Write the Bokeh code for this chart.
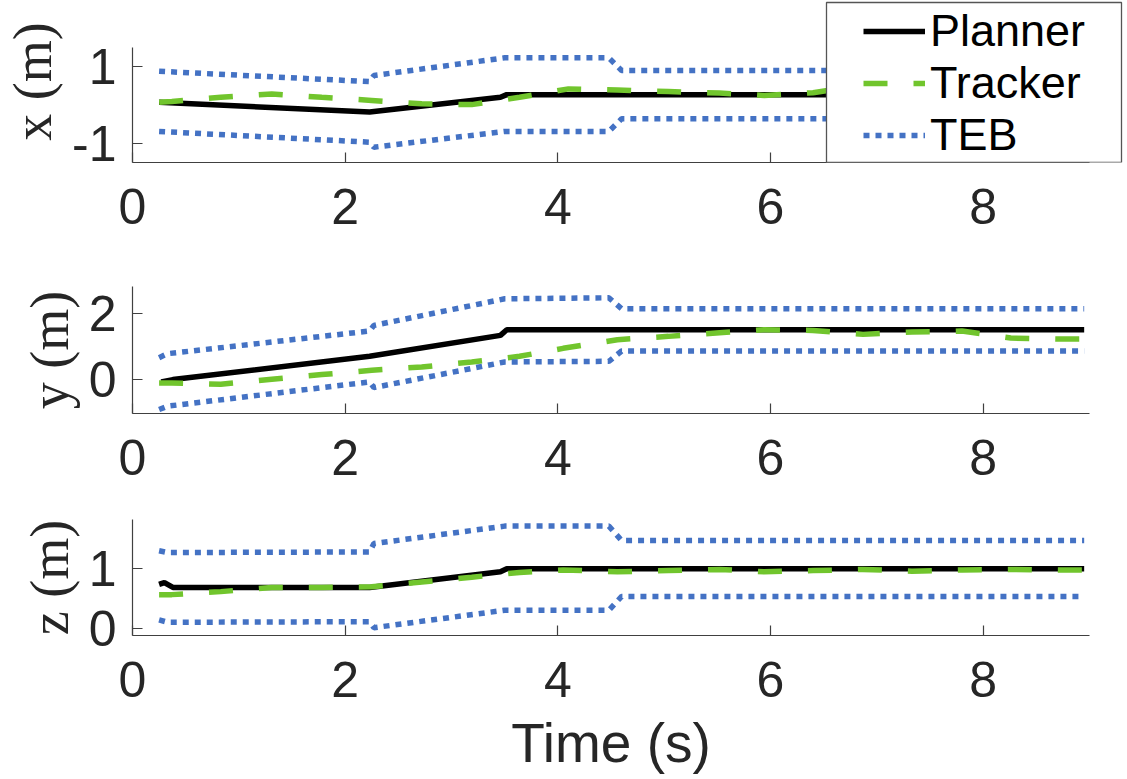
from bokeh.plotting import figure
from bokeh.models import Range1d, FixedTicker, Legend, LegendItem, BoxAnnotation
from bokeh.layouts import column
from bokeh.embed import file_html
from bokeh.resources import INLINE

# ---------------- data ----------------
x_ticks = [0, 2, 4, 6, 8]
series_names = ["Planner", "Tracker", "TEB"]

# x position
x_planner_t = [0.25, 2.23, 3.46, 3.52, 8.95]
x_planner_v = [0.07, -0.18, 0.20, 0.27, 0.27]
x_tracker_t = [0.25, 0.37, 0.83, 1.31, 1.78, 2.25, 2.72, 3.19, 3.64, 4.1, 4.56, 5.04, 5.52, 5.94, 6.4, 6.7, 7.5, 8.95]
x_tracker_v = [0.07, 0.09, 0.20, 0.29, 0.20, 0.12, 0.03, 0.01, 0.20, 0.42, 0.39, 0.35, 0.31, 0.25, 0.32, 0.45, 0.35, 0.30]
x_teb_t = [0.25, 2.23, 2.27, 3.5, 4.48, 4.6, 8.95]
x_teb_upper = [0.88, 0.61, 0.77, 1.23, 1.23, 0.90, 0.90]
x_teb_lower = [-0.69, -0.97, -1.10, -0.69, -0.69, -0.36, -0.36]

# y position
y_planner_t = [0.27, 0.38, 2.23, 3.46, 3.52, 8.95]
y_planner_v = [-0.07, 0.0, 0.70, 1.33, 1.50, 1.50]
y_tracker_t = [0.25, 0.37, 0.83, 1.31, 1.78, 2.25, 2.72, 3.19, 3.64, 4.05, 4.56, 5.04, 5.52, 5.94, 6.4, 6.87, 7.33, 7.8, 8.26, 8.73, 8.95]
y_tracker_v = [-0.10, -0.10, -0.14, 0.01, 0.15, 0.28, 0.38, 0.53, 0.70, 0.94, 1.20, 1.30, 1.41, 1.50, 1.48, 1.36, 1.43, 1.46, 1.25, 1.22, 1.22]
y_teb_t = [0.25, 0.33, 2.23, 2.27, 3.5, 4.48, 4.6, 8.95]
y_teb_upper = [0.66, 0.78, 1.46, 1.63, 2.43, 2.46, 2.13, 2.13]
y_teb_lower = [-0.90, -0.80, -0.07, -0.24, 0.53, 0.55, 0.86, 0.86]

# z position
z_planner_t = [0.25, 0.30, 0.38, 2.23, 3.46, 3.52, 8.95]
z_planner_v = [0.74, 0.77, 0.69, 0.69, 0.95, 1.00, 1.00]
z_tracker_t = [0.25, 0.37, 0.83, 1.31, 1.78, 2.25, 2.72, 3.19, 3.64, 4.05, 4.56, 5.04, 5.52, 5.94, 6.4, 6.87, 7.33, 7.8, 8.26, 8.73, 8.95]
z_tracker_v = [0.57, 0.57, 0.62, 0.69, 0.69, 0.70, 0.78, 0.86, 0.94, 0.98, 0.95, 0.97, 0.99, 0.95, 0.97, 0.99, 0.96, 0.98, 0.99, 0.98, 0.98]
z_teb_t = [0.25, 0.33, 2.23, 2.27, 3.5, 4.48, 4.6, 8.95]
z_teb_upper = [1.30, 1.27, 1.28, 1.42, 1.71, 1.71, 1.47, 1.47]
z_teb_lower = [0.15, 0.11, 0.12, 0.02, 0.31, 0.31, 0.54, 0.54]

x_limits = (0, 9)
y_limits = [(-1.5, 1.5), (-1.02, 2.8), (-0.11, 1.82)]
y_ticks = [[-1, 1], [0, 2], [0, 1]]
y_labels = ["x (m)", "y (m)", "z (m)"]
x_label = "Time (s)"

# ---------------- style ----------------
C_PLAN = "#000000"
C_TRACK = "#71C52D"
C_TEB = "#4472C4"
AX = "#404040"
TXT = "#262626"
SANS = "Liberation Sans"
SERIF = "Liberation Serif"
LW = 5.5

W = 1122
LEFT = 131
FRAME_W = 957          # frame for panels 2 and 3 (0..9)
RIGHT = W - LEFT - FRAME_W


def style_axes(p, idx, xlabel=None):
    for ax in (p.xaxis[0], p.yaxis[0]):
        ax.axis_line_color = AX
        ax.axis_line_width = 1.2
        ax.major_tick_line_color = AX
        ax.major_tick_line_width = 1.2
        ax.major_tick_in = 10
        ax.major_tick_out = 0
        ax.minor_tick_line_color = None
        ax.major_label_text_font = SANS
        ax.major_label_text_font_size = "50px"
        ax.major_label_text_color = TXT
    xa, ya = p.xaxis[0], p.yaxis[0]
    xa.ticker = FixedTicker(ticks=x_ticks)
    xa.bounds = x_limits
    xa.major_label_standoff = 26
    ya.ticker = FixedTicker(ticks=y_ticks[idx])
    ya.bounds = y_limits[idx]
    ya.major_label_standoff = 16
    ya.major_label_overrides = {t: ("-" + str(abs(t)) if t < 0 else str(t)) for t in y_ticks[idx]}
    ya.axis_label = y_labels[idx]
    ya.axis_label_text_font = SERIF
    ya.axis_label_text_font_size = "54px"
    ya.axis_label_text_font_style = "normal"
    ya.axis_label_text_color = TXT
    ya.axis_label_standoff = 6
    if xlabel:
        xa.axis_label = xlabel
        xa.axis_label_text_font = SANS
        xa.axis_label_text_font_size = "55px"
        xa.axis_label_text_font_style = "normal"
        xa.axis_label_text_color = TXT
        xa.axis_label_standoff = 12


def add_series(p, pt, pv, tt, tv, et, eu, el):
    r_plan = p.line(pt, pv, line_color=C_PLAN, line_width=LW)
    r_track = p.line(tt, tv, line_color=C_TRACK, line_width=LW, line_dash="24 26")
    r_teb = p.line(et, eu, line_color=C_TEB, line_width=LW, line_dash="6 6")
    p.line(et, el, line_color=C_TEB, line_width=LW, line_dash="6 6")
    return r_plan, r_track, r_teb


def base_fig(frame_w, frame_h, top, bottom, right, xr, yr):
    p = figure(width=W, frame_width=frame_w, frame_height=frame_h,
               min_border_left=LEFT, min_border_right=right,
               min_border_top=top, min_border_bottom=bottom,
               x_range=xr, y_range=yr,
               output_backend="svg", toolbar_location=None, title=None)
    p.outline_line_color = None
    p.background_fill_color = "white"
    p.border_fill_color = "white"
    p.xgrid.visible = False
    p.ygrid.visible = False
    return p


# ---- panel 1 (frame enlarged upward/rightward so the legend fits inside it) ----
px_per_x = FRAME_W / (x_limits[1] - x_limits[0])
data_h1 = 115                      # pixel height of the -1.5..1.5 band
top_gap1 = 47                      # pixels above the band (legend area)
y1_top = y_limits[0][1] + top_gap1 * (y_limits[0][1] - y_limits[0][0]) / data_h1
x1_end = x_limits[1] + RIGHT / px_per_x
p1 = base_fig(W - LEFT, data_h1 + top_gap1, 0, 84, 0,
              Range1d(x_limits[0], x1_end), Range1d(y_limits[0][0], y1_top))
rp, rt, re = add_series(p1, x_planner_t, x_planner_v, x_tracker_t, x_tracker_v,
                        x_teb_t, x_teb_upper, x_teb_lower)
style_axes(p1, 0)

# legend box and entries
box = BoxAnnotation(left=694, right=989, top=data_h1 + top_gap1 - 2, bottom=0,
                    left_units="screen", right_units="screen",
                    top_units="screen", bottom_units="screen",
                    fill_color="white", fill_alpha=1.0,
                    line_color="#555555", line_width=1.3, line_alpha=1.0)
p1.add_layout(box)
legend = Legend(items=[LegendItem(label=series_names[0], renderers=[rp]),
                       LegendItem(label=series_names[1], renderers=[rt]),
                       LegendItem(label=series_names[2], renderers=[re])],
                location=(731, 1), orientation="vertical",
                padding=0, margin=0, spacing=0,
                glyph_width=62, glyph_height=20, label_standoff=5,
                label_text_font=SANS, label_text_font_size="45px", label_text_color="black",
                border_line_color=None, background_fill_alpha=0.0)
p1.add_layout(legend, "center")

# ---- panel 2 ----
p2 = base_fig(FRAME_W, 127, 40, 84, RIGHT, Range1d(*x_limits), Range1d(*y_limits[1]))
add_series(p2, y_planner_t, y_planner_v, y_tracker_t, y_tracker_v,
           y_teb_t, y_teb_upper, y_teb_lower)
style_axes(p2, 1)

# ---- panel 3 ----
p3 = base_fig(FRAME_W, 116, 22, 141, RIGHT, Range1d(*x_limits), Range1d(*y_limits[2]))
add_series(p3, z_planner_t, z_planner_v, z_tracker_t, z_tracker_v,
           z_teb_t, z_teb_upper, z_teb_lower)
style_axes(p3, 2, xlabel=x_label)

layout = column(p1, p2, p3, spacing=0)
open("out.html", "w").write(file_html(layout, INLINE))
